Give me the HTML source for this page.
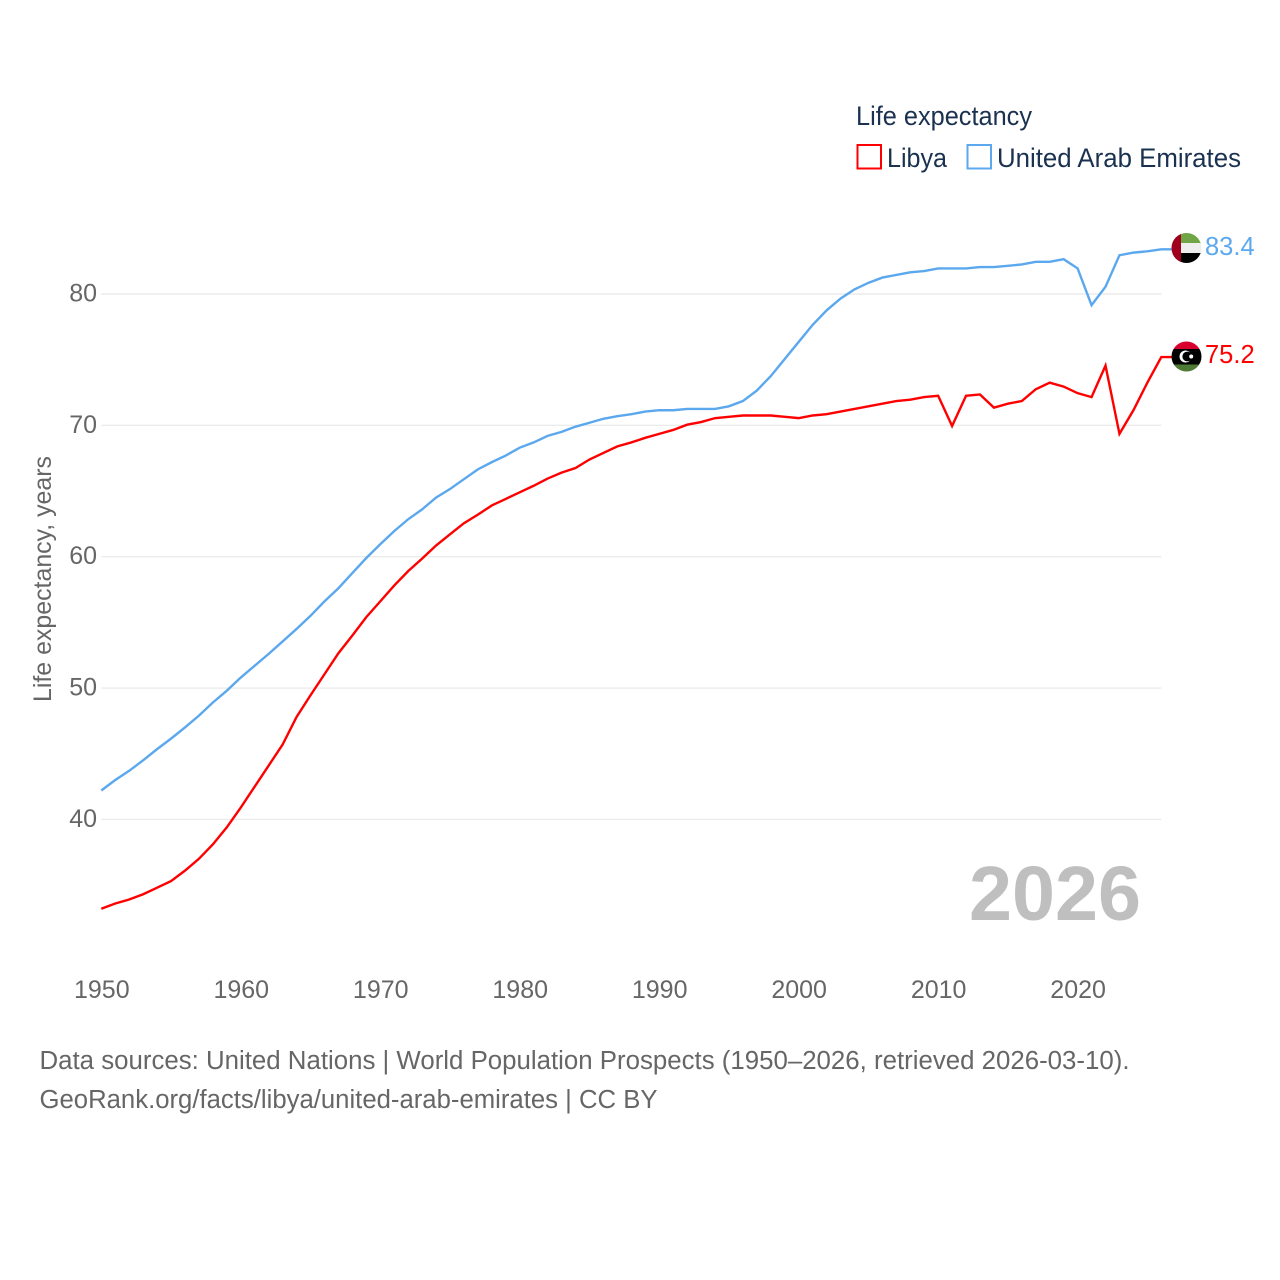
<!DOCTYPE html>
<html lang="en">
<head>
<meta charset="utf-8">
<title>Life expectancy: Libya and United Arab Emirates</title>
<style>
html,body{margin:0;padding:0;background:#fff}
svg{display:block}
text{font-family:"Liberation Sans",sans-serif}
</style>
</head>
<body>
<svg id="chart" width="1280" height="1280" viewBox="0 0 1280 1280" xmlns="http://www.w3.org/2000/svg">
  <defs>
    <clipPath id="flag-clip-uae"><circle id="clip-uae" cx="1186.5" cy="248" r="15"/></clipPath>
    <clipPath id="flag-clip-lby"><circle id="clip-lby" cx="1186.5" cy="356.5" r="15"/></clipPath>
  </defs>
  <g id="grid"></g>
  <g id="ylabels"></g>
  <g id="xlabels"></g>
  <g id="series"></g>

  <text transform="translate(51,702) rotate(-90)" font-size="25" fill="#666" textLength="246" lengthAdjust="spacingAndGlyphs">Life expectancy, years</text>

  <g>
    <text x="856" y="125" font-size="27" fill="#1a3150" textLength="176" lengthAdjust="spacingAndGlyphs">Life expectancy</text>
    <rect x="857.5" y="145" width="23.5" height="23.5" fill="#fff" stroke="#ff0000" stroke-width="2"/>
    <text x="887" y="167" font-size="27" fill="#1a3150" textLength="60" lengthAdjust="spacingAndGlyphs">Libya</text>
    <rect x="967.5" y="145" width="23.5" height="23.5" fill="#fff" stroke="#5ba8ee" stroke-width="2"/>
    <text x="997" y="167" font-size="27" fill="#1a3150" textLength="244" lengthAdjust="spacingAndGlyphs">United Arab Emirates</text>
  </g>

  <g clip-path="url(#flag-clip-uae)">
    <rect x="1171" y="233" width="31" height="10" fill="#6fa544"/>
    <rect x="1171" y="243" width="31" height="10" fill="#eeeeee"/>
    <rect x="1171" y="253" width="31" height="11" fill="#000"/>
    <rect x="1171" y="233" width="10" height="31" fill="#a0001e"/>
  </g>
  <g clip-path="url(#flag-clip-lby)">
    <rect x="1171" y="341" width="31" height="8" fill="#d8002c"/>
    <rect x="1171" y="349" width="31" height="15.5" fill="#000"/>
    <rect x="1171" y="364.5" width="31" height="8" fill="#4f7a35"/>
    <circle cx="1185.5" cy="356.5" r="6" fill="#fff"/>
    <circle cx="1187.3" cy="356.5" r="4.9" fill="#000"/>
    <circle cx="1191.2" cy="356.5" r="2" fill="#fff"/>
  </g>

  <text id="year" x="969" y="920" font-size="77" font-weight="700" fill="#bfbfbf" textLength="172" lengthAdjust="spacingAndGlyphs">2026</text>

  <text x="39.5" y="1069" font-size="25.5" fill="#666" textLength="1090" lengthAdjust="spacingAndGlyphs">Data sources: United Nations | World Population Prospects (1950–2026, retrieved 2026-03-10).</text>
  <text x="39.5" y="1108" font-size="25.5" fill="#666" textLength="618" lengthAdjust="spacingAndGlyphs">GeoRank.org/facts/libya/united-arab-emirates | CC BY</text>
</svg>
<script>
const startYear = 1950;
const yTicks = [40, 50, 60, 70, 80];
const xTicks = [1950, 1960, 1970, 1980, 1990, 2000, 2010, 2020];
const libya = [33.2,33.6,33.9,34.3,34.8,35.3,36.1,37,38.1,39.4,40.9,42.5,44.1,45.7,47.8,49.45,51.05,52.65,54,55.4,56.6,57.8,58.9,59.85,60.85,61.7,62.55,63.2,63.9,64.4,64.9,65.4,65.95,66.4,66.75,67.4,67.9,68.4,68.7,69.05,69.35,69.65,70.05,70.25,70.55,70.65,70.75,70.75,70.75,70.65,70.55,70.75,70.85,71.05,71.25,71.45,71.65,71.85,71.95,72.15,72.25,69.95,72.25,72.35,71.35,71.65,71.85,72.75,73.25,72.95,72.45,72.15,74.55,69.35,71.15,73.25,75.2];
const uae = [42.2,43,43.7,44.5,45.35,46.15,47,47.9,48.9,49.8,50.8,51.7,52.6,53.55,54.5,55.5,56.6,57.6,58.75,59.9,60.95,61.95,62.85,63.6,64.5,65.15,65.9,66.65,67.2,67.7,68.3,68.7,69.2,69.5,69.9,70.2,70.5,70.7,70.85,71.05,71.15,71.15,71.25,71.25,71.25,71.45,71.85,72.65,73.75,75.05,76.35,77.65,78.75,79.65,80.35,80.85,81.25,81.45,81.65,81.75,81.95,81.95,81.95,82.05,82.05,82.15,82.25,82.45,82.45,82.65,81.95,79.15,80.55,82.95,83.15,83.25,83.4];

const NS = 'http://www.w3.org/2000/svg';
function xScale(year) { return 101.3 + (year - 1950) * (1060 / 76); }
function yScale(v) { return 294 + (80 - v) * 13.135; }
function make(tag, parent, attrs, text) {
  const el = document.createElementNS(NS, tag);
  for (const k in attrs) el.setAttribute(k, attrs[k]);
  if (text !== undefined) el.textContent = text;
  parent.appendChild(el);
  return el;
}
const grid = document.getElementById('grid');
const ylabels = document.getElementById('ylabels');
const xlabels = document.getElementById('xlabels');
const series = document.getElementById('series');

yTicks.forEach(function (t) {
  const line = make('line', grid, {x1: xScale(1950), x2: xScale(2026), y1: yScale(t), y2: yScale(t), stroke: '#ececec', 'stroke-width': 1.4});
  
  
  const label = make('text', ylabels, {x: 97, y: yScale(t) + 7.5, 'text-anchor': 'end', 'font-size': 25, fill: '#666'}, String(t));
  
  
});
xTicks.forEach(function (t) {
  const label = make('text', xlabels, {x: xScale(t) + 0.5, y: 998, 'text-anchor': 'middle', 'font-size': 25, fill: '#666'}, String(t));
  
  
});
function drawSeries(values, color) {
  const pts = values.map(function (v, i) { return xScale(startYear + i).toFixed(2) + ',' + yScale(v).toFixed(2); });
  const lastY = yScale(values[values.length - 1]).toFixed(2);
  pts.push('1172,' + lastY);
  return make('polyline', series, {points: pts.join(' '), fill: 'none', stroke: color, 'stroke-width': 2.4, 'stroke-linejoin': 'miter'});
}
const libyaLine = drawSeries(libya, '#ff0000');


const uaeLine = drawSeries(uae, '#5ba8ee');



const uaeEnd = make('text', series, {x: 1205, y: yScale(uae[uae.length - 1]) + 5.7, 'font-size': 25.5, fill: '#5ba8ee'}, uae[uae.length - 1].toFixed(1));


const libyaEnd = make('text', series, {x: 1205, y: yScale(libya[libya.length - 1]) + 6, 'font-size': 25.5, fill: '#ff0000'}, libya[libya.length - 1].toFixed(1));


</script>
</body>
</html>
